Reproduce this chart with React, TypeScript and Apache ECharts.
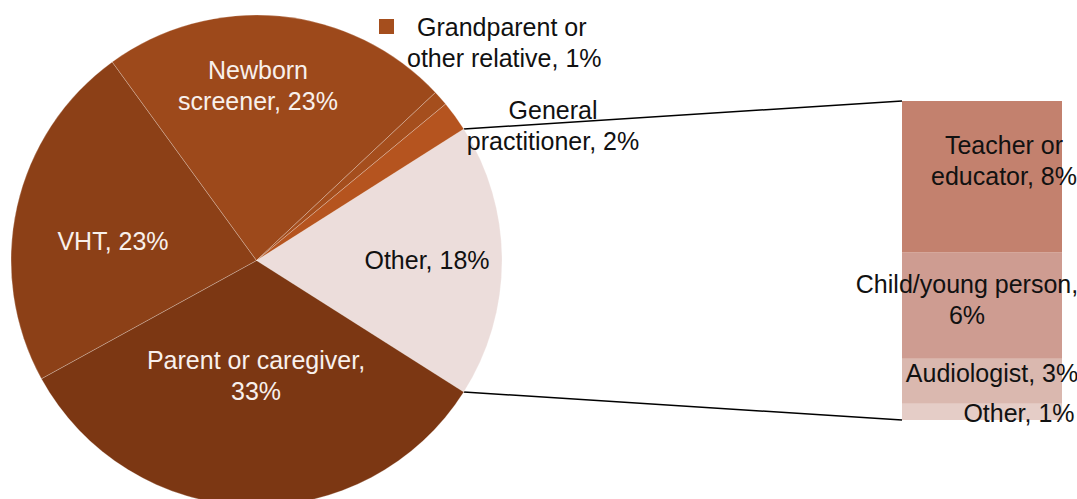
import React, { useEffect, useRef } from "react";
import * as echarts from "echarts";

// ---- Data ----
const pieNames = [
  "Other",
  "Parent or caregiver",
  "VHT",
  "Newborn screener",
  "Grandparent or other relative",
  "General practitioner",
];
const pieValues = [18, 33, 23, 23, 1, 2];
const pieLabelTemplates = [
  "Other, {v}%",
  "Parent or caregiver,\n{v}%",
  "VHT, {v}%",
  "Newborn\nscreener, {v}%",
  "Grandparent or\nother relative, {v}%",
  "General\npractitioner, {v}%",
];

// breakdown of "Other" (stacked bar, bottom -> top)
const barNames = ["Other", "Audiologist", "Child/young person", "Teacher or educator"];
const barValues = [0.9, 2.5, 5.9, 8.4];
const barLabelTemplates = [
  "Other, {v}%",
  "Audiologist, {v}%",
  "Child/young person,\n{v}%",
  "Teacher or\neducator, {v}%",
];

// ---- Styles / layout ----
const pieColors = ["#ECDDDB", "#7C3713", "#8C4017", "#9D491B", "#A54E1D", "#B5541F"];
const pieLabelColors = ["#111", "#F8F0EC", "#F8F0EC", "#F8F0EC", "#111", "#111"];
const pieLabelPos: [number, number, string][] = [
  [427, 260, "center"],
  [256, 375, "center"],
  [113, 241, "center"],
  [258, 85, "center"],
  [379, 42, "left"],
  [553, 125, "center"],
];
const barColors = ["#E5CDC7", "#DAB8AF", "#CE9C91", "#C3816E"];
const barLabelOffsets: [number, number][] = [
  [37, 1],
  [10, -8],
  [-15, -6],
  [22, -16],
];

const FONT = "'Liberation Sans', Arial, sans-serif";
const FONT_SIZE = 25;
const LINE_H = 31;
const PIE_CX = 256.5;
const PIE_CY = 260.5;
const PIE_R = 245.5;
const GRID_LEFT = 902;
const GRID_TOP = 101;
const GRID_W = 160;
const GRID_H = 319;

export default function App() {
  const ref = useRef<HTMLDivElement>(null);

  useEffect(() => {
    document.body.style.margin = "0";
    if (!ref.current) return;
    const chart = echarts.init(ref.current, undefined, { renderer: "svg" });

    const pieTotal = pieValues.reduce((a, b) => a + b, 0);
    const barTotal = barValues.reduce((a, b) => a + b, 0);
    const halfDeg = (pieValues[0] / pieTotal) * 180;
    const halfRad = (halfDeg * Math.PI) / 180;
    const topPt = [PIE_CX + PIE_R * Math.cos(halfRad), PIE_CY - PIE_R * Math.sin(halfRad)];
    const botPt = [PIE_CX + PIE_R * Math.cos(halfRad), PIE_CY + PIE_R * Math.sin(halfRad)];

    const pieData = pieNames.map((name, i) => {
      const base: any = {
        name,
        value: pieValues[i],
        itemStyle: { color: pieColors[i] },
        label: { color: pieLabelColors[i] },
      };
      if (i === 4) {
        base.label = {
          color: pieLabelColors[i],
          rich: {
            m: { width: 15, height: 15, backgroundColor: pieColors[i] },
            g: { width: 23 },
            s: { width: 28 },
          },
        };
      }
      return base;
    });

    const barSeries = barNames.map((name, i) => ({
      type: "bar",
      name,
      stack: "other",
      barWidth: "100%",
      data: [barValues[i]],
      itemStyle: { color: barColors[i] },
      label: {
        show: true,
        position: "inside",
        offset: barLabelOffsets[i],
        color: "#111",
        fontFamily: FONT,
        fontSize: FONT_SIZE,
        lineHeight: LINE_H,
        align: "center",
        formatter: () => barLabelTemplates[i].replace("{v}", String(Math.round(barValues[i]))),
      },
    }));

    chart.setOption({
      animation: false,
      backgroundColor: "#ffffff",
      grid: { left: GRID_LEFT, top: GRID_TOP, width: GRID_W, height: GRID_H },
      xAxis: { type: "category", data: ["Other"], show: false },
      yAxis: { type: "value", min: 0, max: barTotal, show: false },
      series: [
        {
          type: "pie",
          center: [PIE_CX, PIE_CY],
          radius: PIE_R,
          startAngle: halfDeg,
          clockwise: true,
          avoidLabelOverlap: false,
          silent: true,
          itemStyle: { borderColor: "rgba(255,255,255,0.3)", borderWidth: 0.8 },
          label: {
            show: true,
            position: "inside",
            fontFamily: FONT,
            fontSize: FONT_SIZE,
            lineHeight: LINE_H,
            formatter: (p: any) => {
              const txt = pieLabelTemplates[p.dataIndex].replace("{v}", String(pieValues[p.dataIndex]));
              if (p.dataIndex === 4) {
                const lines = txt.split("\n");
                return "{m|}{g|}" + lines[0] + "\n{s|}" + lines[1];
              }
              return txt;
            },
          },
          labelLine: { show: false },
          labelLayout: (params: any) => {
            const p = pieLabelPos[params.dataIndex];
            return { x: p[0], y: p[1], align: p[2], verticalAlign: "middle" };
          },
          data: pieData,
        },
        ...barSeries,
      ],
      graphic: [
        {
          type: "line",
          shape: { x1: topPt[0], y1: topPt[1], x2: GRID_LEFT, y2: GRID_TOP },
          style: { stroke: "#000", lineWidth: 1.5 },
        },
        {
          type: "line",
          shape: { x1: botPt[0], y1: botPt[1], x2: GRID_LEFT, y2: GRID_TOP + GRID_H },
          style: { stroke: "#000", lineWidth: 1.5 },
        },
      ],
    });

    return () => chart.dispose();
  }, []);

  return <div ref={ref} style={{ width: 1077, height: 499 }} />;
}
